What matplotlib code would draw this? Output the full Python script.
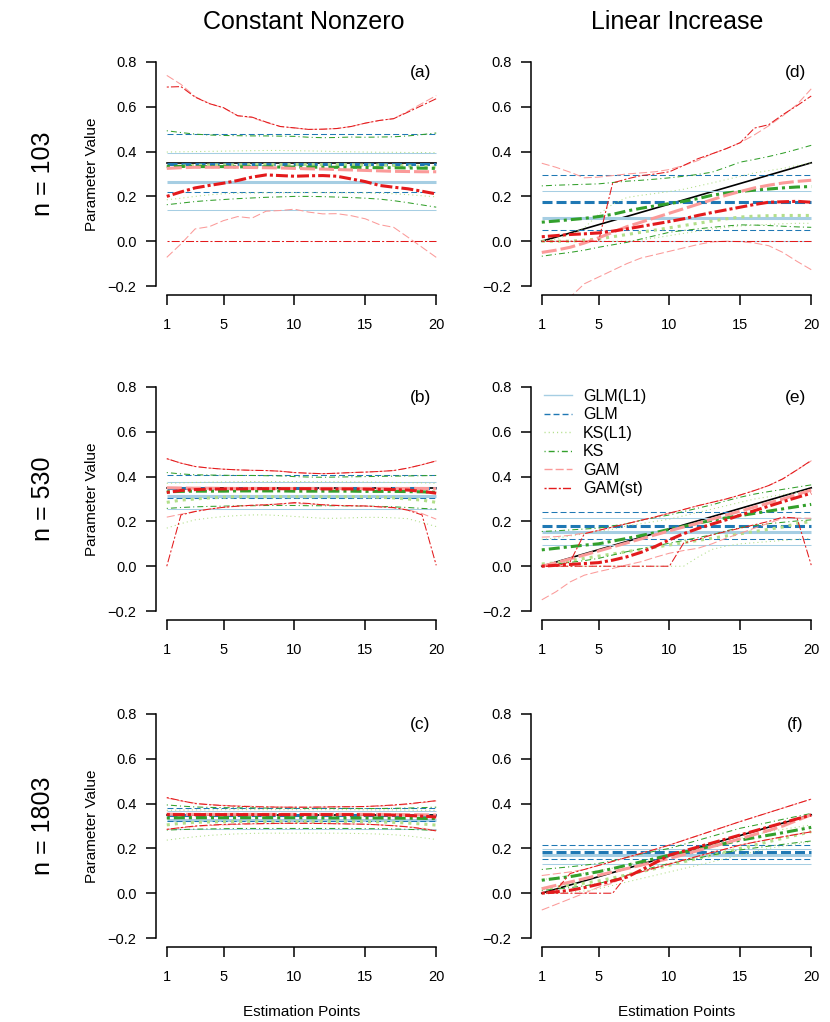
"""
Simulation summary: estimated parameter curves (mean and bands) for six
estimators, two true-parameter scenarios and three sample sizes.
Writes out.png.
"""
import numpy as np
import matplotlib
matplotlib.use("Agg")
import matplotlib.pyplot as plt
from matplotlib.lines import Line2D

plt.rcParams["font.family"] = ["Liberation Sans", "DejaVu Sans"]
plt.rcParams["lines.scale_dashes"] = False

X = np.arange(1, 21)

METHODS = ["GLM(L1)", "GLM", "KS(L1)", "KS", "GAM", "GAM(st)"]
COLORS  = ["#A6CEE3", "#1F78B4", "#B2DF8A", "#33A02C", "#FB9A99", "#E31A1C"]

# true parameter: constant (left column) / linear 0 -> 0.35 (right column)
TRUE_CONST = 0.35
TRUE_LIN_X = [1, 20]
TRUE_LIN_Y = [0.0, 0.35]

# ── panel (a): constant, n = 103 ───────────────────────────────────────────
A_GLML1 = (0.265, 0.140, 0.392)          # mean, lower, upper (constant fits)
A_GLM   = (0.345, 0.218, 0.478)
A_KSL1_M = [0.330, 0.335, 0.338, 0.340, 0.340, 0.341, 0.342, 0.342, 0.342, 0.342,
            0.342, 0.342, 0.342, 0.341, 0.340, 0.340, 0.338, 0.336, 0.334, 0.330]
A_KSL1_L = [0.185, 0.192, 0.200, 0.207, 0.212, 0.214, 0.215, 0.216, 0.216, 0.217,
            0.217, 0.217, 0.216, 0.216, 0.215, 0.214, 0.212, 0.208, 0.203, 0.198]
A_KSL1_U = [0.398, 0.399, 0.400, 0.401, 0.402, 0.403, 0.404, 0.405, 0.405, 0.404,
            0.403, 0.402, 0.400, 0.399, 0.398, 0.397, 0.397, 0.396, 0.396, 0.395]
A_KS_M = [0.334, 0.334, 0.333, 0.333, 0.333, 0.332, 0.332, 0.332, 0.331, 0.331,
          0.331, 0.330, 0.330, 0.330, 0.329, 0.328, 0.328, 0.327, 0.326, 0.325]
A_KS_L = [0.163, 0.170, 0.177, 0.182, 0.186, 0.190, 0.193, 0.196, 0.198, 0.200,
          0.200, 0.199, 0.197, 0.195, 0.192, 0.188, 0.181, 0.172, 0.162, 0.152]
A_KS_U = [0.493, 0.485, 0.478, 0.474, 0.472, 0.471, 0.470, 0.470, 0.469, 0.468,
          0.464, 0.462, 0.463, 0.465, 0.464, 0.465, 0.466, 0.470, 0.476, 0.483]
A_GAM_M = [0.325, 0.328, 0.330, 0.330, 0.330, 0.330, 0.329, 0.328, 0.327, 0.325,
           0.323, 0.322, 0.320, 0.318, 0.316, 0.314, 0.312, 0.311, 0.310, 0.310]
A_GAM_L = [-0.072, -0.012, 0.055, 0.065, 0.092, 0.110, 0.103, 0.134, 0.137, 0.143,
           0.130, 0.122, 0.123, 0.114, 0.100, 0.074, 0.062, 0.018, -0.027, -0.072]
A_GAM_U = [0.740, 0.700, 0.645, 0.615, 0.595, 0.560, 0.552, 0.530, 0.512, 0.505,
           0.499, 0.500, 0.503, 0.512, 0.527, 0.539, 0.547, 0.580, 0.615, 0.650]
A_GST_M = [0.200, 0.220, 0.238, 0.249, 0.259, 0.271, 0.286, 0.296, 0.293, 0.290,
           0.292, 0.293, 0.290, 0.278, 0.266, 0.249, 0.241, 0.234, 0.223, 0.211]
A_GST_L = [0.0] * 20
A_GST_U = [0.688, 0.690, 0.643, 0.614, 0.596, 0.560, 0.554, 0.532, 0.512, 0.506,
           0.499, 0.500, 0.503, 0.512, 0.527, 0.539, 0.547, 0.576, 0.606, 0.636]

# ── panel (b): constant, n = 530 ───────────────────────────────────────────
B_GLML1 = (0.314, 0.255, 0.374)
B_GLM   = (0.348, 0.304, 0.406)
B_KSL1_M = [0.285, 0.295, 0.300, 0.305, 0.308, 0.310, 0.310, 0.310, 0.310, 0.310,
            0.310, 0.310, 0.310, 0.310, 0.310, 0.308, 0.305, 0.300, 0.295, 0.285]
B_KSL1_L = [0.170, 0.190, 0.207, 0.215, 0.222, 0.226, 0.229, 0.229, 0.226, 0.222,
            0.218, 0.214, 0.214, 0.216, 0.218, 0.218, 0.216, 0.212, 0.195, 0.177]
B_KSL1_U = [0.370, 0.372, 0.374, 0.375, 0.376, 0.377, 0.378, 0.378, 0.378, 0.378,
            0.378, 0.377, 0.377, 0.376, 0.376, 0.375, 0.374, 0.373, 0.372, 0.370]
B_KS_M = [0.332, 0.334, 0.335, 0.335, 0.335, 0.336, 0.336, 0.336, 0.336, 0.335,
          0.335, 0.335, 0.335, 0.335, 0.334, 0.334, 0.334, 0.333, 0.332, 0.330]
B_KS_L = [0.258, 0.262, 0.265, 0.267, 0.268, 0.270, 0.270, 0.271, 0.271, 0.271,
          0.270, 0.270, 0.270, 0.269, 0.268, 0.267, 0.265, 0.262, 0.258, 0.255]
B_KS_U = [0.418, 0.412, 0.408, 0.407, 0.406, 0.405, 0.405, 0.404, 0.403, 0.400,
          0.398, 0.397, 0.398, 0.399, 0.400, 0.401, 0.402, 0.403, 0.404, 0.405]
B_GAM_M = [0.350, 0.349, 0.348, 0.348, 0.347, 0.347, 0.347, 0.347, 0.347, 0.347,
           0.347, 0.347, 0.347, 0.347, 0.347, 0.347, 0.347, 0.347, 0.347, 0.346]
B_GAM_L = [0.219, 0.232, 0.245, 0.255, 0.263, 0.268, 0.272, 0.275, 0.278, 0.280,
           0.278, 0.275, 0.272, 0.270, 0.268, 0.265, 0.260, 0.252, 0.235, 0.210]
B_GAM_U = [0.480, 0.460, 0.445, 0.438, 0.433, 0.430, 0.428, 0.427, 0.424, 0.418,
           0.415, 0.413, 0.415, 0.418, 0.420, 0.423, 0.427, 0.438, 0.453, 0.470]
B_GST_M = [0.329, 0.338, 0.342, 0.344, 0.345, 0.345, 0.346, 0.346, 0.346, 0.346,
           0.346, 0.345, 0.345, 0.345, 0.344, 0.343, 0.342, 0.340, 0.334, 0.326]
B_GST_L = [0.000, 0.229, 0.244, 0.255, 0.263, 0.268, 0.272, 0.274, 0.278, 0.284,
           0.280, 0.274, 0.271, 0.270, 0.269, 0.265, 0.262, 0.250, 0.229, 0.004]
B_GST_U = [0.480, 0.460, 0.445, 0.438, 0.433, 0.430, 0.428, 0.427, 0.424, 0.418,
           0.415, 0.413, 0.415, 0.418, 0.420, 0.423, 0.427, 0.438, 0.453, 0.470]

# ── panel (c): constant, n = 1803 ──────────────────────────────────────────
C_GLML1 = (0.328, 0.285, 0.365)
C_GLM   = (0.348, 0.322, 0.381)
C_KSL1_M = [0.305, 0.312, 0.316, 0.318, 0.319, 0.320, 0.320, 0.320, 0.320, 0.320,
            0.320, 0.320, 0.320, 0.320, 0.319, 0.318, 0.316, 0.313, 0.309, 0.304]
C_KSL1_L = [0.237, 0.245, 0.252, 0.258, 0.262, 0.265, 0.267, 0.268, 0.268, 0.268,
            0.268, 0.268, 0.268, 0.267, 0.266, 0.264, 0.261, 0.256, 0.248, 0.240]
C_KSL1_U = [0.370, 0.371, 0.372, 0.372, 0.373, 0.373, 0.373, 0.373, 0.373, 0.373,
            0.373, 0.373, 0.373, 0.373, 0.372, 0.372, 0.372, 0.371, 0.370, 0.370]
C_KS_M = [0.336, 0.337, 0.337, 0.337, 0.337, 0.337, 0.337, 0.337, 0.337, 0.337,
          0.337, 0.336, 0.336, 0.336, 0.336, 0.336, 0.335, 0.335, 0.334, 0.333]
C_KS_L = [0.282, 0.284, 0.286, 0.287, 0.288, 0.289, 0.289, 0.289, 0.289, 0.289,
          0.289, 0.289, 0.289, 0.289, 0.288, 0.288, 0.287, 0.285, 0.283, 0.280]
C_KS_U = [0.394, 0.389, 0.385, 0.383, 0.382, 0.381, 0.381, 0.380, 0.380, 0.380,
          0.379, 0.379, 0.379, 0.378, 0.378, 0.378, 0.379, 0.380, 0.382, 0.384]
C_GAM_M = [0.353, 0.352, 0.352, 0.352, 0.352, 0.352, 0.352, 0.352, 0.352, 0.352,
           0.352, 0.352, 0.352, 0.352, 0.352, 0.352, 0.351, 0.351, 0.350, 0.349]
C_GAM_L = [0.285, 0.292, 0.298, 0.302, 0.305, 0.307, 0.309, 0.310, 0.311, 0.312,
           0.312, 0.311, 0.310, 0.309, 0.308, 0.305, 0.302, 0.297, 0.290, 0.280]
C_GAM_U = [0.425, 0.412, 0.402, 0.396, 0.392, 0.390, 0.388, 0.386, 0.385, 0.384,
           0.384, 0.384, 0.385, 0.386, 0.387, 0.389, 0.392, 0.397, 0.404, 0.412]
C_GST_M = [0.351, 0.351, 0.351, 0.351, 0.351, 0.351, 0.351, 0.351, 0.351, 0.351,
           0.351, 0.351, 0.351, 0.351, 0.350, 0.350, 0.349, 0.347, 0.344, 0.340]
C_GST_L = [0.285, 0.293, 0.300, 0.304, 0.307, 0.309, 0.310, 0.311, 0.312, 0.312,
           0.312, 0.311, 0.310, 0.309, 0.308, 0.305, 0.301, 0.296, 0.288, 0.278]
C_GST_U = [0.427, 0.413, 0.400, 0.395, 0.391, 0.388, 0.386, 0.385, 0.384, 0.384,
           0.384, 0.385, 0.386, 0.386, 0.387, 0.390, 0.394, 0.399, 0.406, 0.413]

# ── panel (d): linear, n = 103 ─────────────────────────────────────────────
D_GLML1 = (0.102, 0.000, 0.226)
D_GLM   = (0.174, 0.050, 0.296)
D_KSL1_M = [0.000, 0.000, 0.000, 0.005, 0.010, 0.020, 0.030, 0.040, 0.050, 0.060,
            0.070, 0.080, 0.090, 0.100, 0.108, 0.112, 0.114, 0.115, 0.115, 0.115]
D_KSL1_L = [0.000, 0.000, 0.000, 0.000, 0.000, 0.000, 0.000, 0.005, 0.015, 0.025,
            0.035, 0.045, 0.055, 0.062, 0.068, 0.072, 0.075, 0.078, 0.080, 0.080]
D_KSL1_U = [0.000, 0.010, 0.030, 0.060, 0.120, 0.165, 0.195, 0.205, 0.213, 0.222,
            0.232, 0.246, 0.260, 0.275, 0.290, 0.305, 0.315, 0.325, 0.338, 0.350]
D_KS_M = [0.085, 0.090, 0.096, 0.102, 0.110, 0.120, 0.135, 0.147, 0.158, 0.168,
          0.178, 0.190, 0.205, 0.215, 0.222, 0.228, 0.233, 0.238, 0.242, 0.244]
D_KS_L = [-0.067, -0.058, -0.050, -0.040, -0.027, -0.016, -0.005, 0.010, 0.025, 0.040,
          0.048, 0.055, 0.062, 0.068, 0.073, 0.072, 0.070, 0.067, 0.064, 0.062]
D_KS_U = [0.247, 0.250, 0.252, 0.254, 0.256, 0.262, 0.268, 0.272, 0.277, 0.283,
          0.290, 0.298, 0.308, 0.330, 0.353, 0.365, 0.378, 0.393, 0.410, 0.428]
D_GAM_M = [-0.050, -0.040, -0.027, -0.008, 0.015, 0.040, 0.065, 0.085, 0.105, 0.125,
           0.145, 0.165, 0.185, 0.205, 0.222, 0.238, 0.250, 0.260, 0.267, 0.272]
D_GAM_L = [-0.350, -0.300, -0.250, -0.190, -0.160, -0.130, -0.100, -0.075, -0.060, -0.045,
           -0.030, -0.015, -0.003, 0.000, -0.002, -0.008, -0.020, -0.050, -0.090, -0.127]
D_GAM_U = [0.348, 0.330, 0.308, 0.283, 0.286, 0.293, 0.300, 0.305, 0.310, 0.320,
           0.338, 0.360, 0.390, 0.413, 0.440, 0.475, 0.515, 0.560, 0.610, 0.680]
D_GST_M = [0.020, 0.025, 0.030, 0.033, 0.037, 0.045, 0.055, 0.066, 0.077, 0.088,
           0.100, 0.115, 0.128, 0.140, 0.152, 0.164, 0.174, 0.176, 0.178, 0.174]
D_GST_L = [0.0] * 20
D_GST_U = [0.000, 0.000, 0.000, 0.000, 0.000, 0.260, 0.278, 0.293, 0.300, 0.310,
           0.338, 0.368, 0.390, 0.413, 0.440, 0.505, 0.520, 0.565, 0.605, 0.648]

# ── panel (e): linear, n = 530 ─────────────────────────────────────────────
E_GLML1 = (0.152, 0.095, 0.214)
E_GLM   = (0.180, 0.122, 0.240)
E_KSL1_M = [0.010, 0.015, 0.025, 0.035, 0.045, 0.055, 0.065, 0.075, 0.085, 0.095,
            0.105, 0.115, 0.125, 0.135, 0.145, 0.155, 0.165, 0.175, 0.190, 0.200]
E_KSL1_L = [0.000, 0.000, 0.000, 0.000, 0.000, 0.000, 0.000, 0.000, 0.000, 0.000,
            0.000, 0.040, 0.075, 0.090, 0.100, 0.105, 0.110, 0.115, 0.120, 0.125]
E_KSL1_U = [0.120, 0.125, 0.135, 0.145, 0.155, 0.165, 0.180, 0.190, 0.200, 0.210,
            0.225, 0.240, 0.255, 0.270, 0.285, 0.300, 0.310, 0.320, 0.330, 0.340]
E_KS_M = [0.073, 0.080, 0.087, 0.094, 0.100, 0.112, 0.124, 0.137, 0.150, 0.165,
          0.178, 0.192, 0.205, 0.216, 0.226, 0.236, 0.246, 0.256, 0.266, 0.276]
E_KS_L = [0.003, 0.010, 0.017, 0.025, 0.035, 0.050, 0.065, 0.078, 0.090, 0.103,
          0.115, 0.128, 0.140, 0.158, 0.172, 0.182, 0.190, 0.196, 0.202, 0.207]
E_KS_U = [0.155, 0.158, 0.162, 0.166, 0.170, 0.180, 0.190, 0.205, 0.217, 0.229,
          0.244, 0.259, 0.274, 0.292, 0.308, 0.322, 0.333, 0.343, 0.353, 0.363]
E_GAM_M = [0.000, 0.015, 0.033, 0.050, 0.068, 0.086, 0.104, 0.122, 0.140, 0.158,
           0.175, 0.192, 0.210, 0.228, 0.246, 0.264, 0.282, 0.300, 0.320, 0.340]
E_GAM_L = [-0.150, -0.114, -0.070, -0.040, -0.024, -0.010, 0.006, 0.020, 0.040, 0.058,
           0.070, 0.080, 0.100, 0.125, 0.147, 0.170, 0.192, 0.214, 0.215, 0.214]
E_GAM_U = [0.130, 0.132, 0.138, 0.148, 0.160, 0.175, 0.190, 0.205, 0.220, 0.237,
           0.253, 0.270, 0.285, 0.300, 0.318, 0.338, 0.360, 0.390, 0.430, 0.470]
E_GST_M = [0.000, 0.004, 0.008, 0.012, 0.016, 0.027, 0.042, 0.062, 0.088, 0.118,
           0.145, 0.168, 0.188, 0.207, 0.228, 0.248, 0.268, 0.288, 0.307, 0.326]
E_GST_L = [0.000, 0.000, 0.000, 0.000, 0.000, 0.000, 0.000, 0.000, 0.000, 0.000,
           0.103, 0.120, 0.140, 0.155, 0.170, 0.185, 0.200, 0.219, 0.215, 0.005]
E_GST_U = [0.000, 0.000, 0.020, 0.145, 0.160, 0.175, 0.190, 0.205, 0.220, 0.237,
           0.253, 0.270, 0.285, 0.300, 0.318, 0.338, 0.360, 0.390, 0.430, 0.472]

# ── panel (f): linear, n = 1803 ────────────────────────────────────────────
F_GLML1 = (0.169, 0.131, 0.198)
F_GLM   = (0.184, 0.151, 0.215)
F_KSL1_M = [0.020, 0.028, 0.036, 0.045, 0.055, 0.068, 0.082, 0.096, 0.110, 0.125,
            0.140, 0.155, 0.170, 0.185, 0.200, 0.215, 0.230, 0.245, 0.260, 0.275]
F_KSL1_L = [0.000, 0.000, 0.005, 0.010, 0.020, 0.035, 0.050, 0.065, 0.080, 0.095,
            0.110, 0.125, 0.140, 0.155, 0.170, 0.185, 0.200, 0.210, 0.220, 0.230]
F_KSL1_U = [0.060, 0.070, 0.080, 0.090, 0.100, 0.112, 0.125, 0.140, 0.155, 0.170,
            0.185, 0.200, 0.215, 0.230, 0.245, 0.260, 0.275, 0.285, 0.295, 0.305]
F_KS_M = [0.058, 0.066, 0.074, 0.085, 0.096, 0.110, 0.125, 0.140, 0.155, 0.170,
          0.183, 0.196, 0.210, 0.223, 0.237, 0.248, 0.259, 0.270, 0.282, 0.294]
F_KS_L = [0.013, 0.018, 0.025, 0.033, 0.043, 0.060, 0.080, 0.100, 0.118, 0.133,
          0.145, 0.157, 0.170, 0.182, 0.193, 0.202, 0.210, 0.218, 0.226, 0.233]
F_KS_U = [0.106, 0.112, 0.118, 0.125, 0.133, 0.145, 0.160, 0.175, 0.188, 0.200,
          0.218, 0.236, 0.254, 0.272, 0.290, 0.303, 0.316, 0.330, 0.343, 0.356]
F_GAM_M = [0.020, 0.035, 0.050, 0.065, 0.080, 0.095, 0.110, 0.125, 0.140, 0.155,
           0.172, 0.190, 0.208, 0.225, 0.243, 0.262, 0.280, 0.300, 0.325, 0.350]
F_GAM_L = [-0.075, -0.050, -0.025, 0.000, 0.027, 0.045, 0.080, 0.095, 0.113, 0.130,
           0.148, 0.165, 0.182, 0.198, 0.215, 0.228, 0.240, 0.252, 0.263, 0.274]
F_GAM_U = [0.079, 0.087, 0.095, 0.106, 0.124, 0.142, 0.160, 0.178, 0.196, 0.215,
           0.236, 0.257, 0.278, 0.299, 0.320, 0.340, 0.360, 0.380, 0.400, 0.420]
F_GST_M = [0.000, 0.006, 0.013, 0.025, 0.040, 0.055, 0.072, 0.103, 0.136, 0.170,
           0.188, 0.206, 0.224, 0.242, 0.260, 0.278, 0.296, 0.314, 0.332, 0.349]
F_GST_L = [0.000, 0.000, 0.000, 0.000, 0.000, 0.000, 0.080, 0.095, 0.113, 0.130,
           0.148, 0.165, 0.182, 0.198, 0.215, 0.228, 0.240, 0.252, 0.263, 0.274]
F_GST_U = [0.001, 0.013, 0.088, 0.106, 0.124, 0.142, 0.160, 0.178, 0.196, 0.215,
           0.236, 0.257, 0.278, 0.299, 0.320, 0.340, 0.360, 0.380, 0.400, 0.420]

PANELS = {
    "a": (A_GLML1, A_GLM, (A_KSL1_M, A_KSL1_L, A_KSL1_U), (A_KS_M, A_KS_L, A_KS_U),
          (A_GAM_M, A_GAM_L, A_GAM_U), (A_GST_M, A_GST_L, A_GST_U)),
    "b": (B_GLML1, B_GLM, (B_KSL1_M, B_KSL1_L, B_KSL1_U), (B_KS_M, B_KS_L, B_KS_U),
          (B_GAM_M, B_GAM_L, B_GAM_U), (B_GST_M, B_GST_L, B_GST_U)),
    "c": (C_GLML1, C_GLM, (C_KSL1_M, C_KSL1_L, C_KSL1_U), (C_KS_M, C_KS_L, C_KS_U),
          (C_GAM_M, C_GAM_L, C_GAM_U), (C_GST_M, C_GST_L, C_GST_U)),
    "d": (D_GLML1, D_GLM, (D_KSL1_M, D_KSL1_L, D_KSL1_U), (D_KS_M, D_KS_L, D_KS_U),
          (D_GAM_M, D_GAM_L, D_GAM_U), (D_GST_M, D_GST_L, D_GST_U)),
    "e": (E_GLML1, E_GLM, (E_KSL1_M, E_KSL1_L, E_KSL1_U), (E_KS_M, E_KS_L, E_KS_U),
          (E_GAM_M, E_GAM_L, E_GAM_U), (E_GST_M, E_GST_L, E_GST_U)),
    "f": (F_GLML1, F_GLM, (F_KSL1_M, F_KSL1_L, F_KSL1_U), (F_KS_M, F_KS_L, F_KS_U),
          (F_GAM_M, F_GAM_L, F_GAM_U), (F_GST_M, F_GST_L, F_GST_U)),
}

# ── styles (dash patterns in points, thin band lines vs thick mean lines) ───
THIN, THICK, TRUE_LW = 0.75, 2.2, 1.2
DASH_THIN  = [None, (4.3, 2.2), (0.8, 2.2), (0.8, 2.2, 4.3, 2.2), (5.8, 2.2), (1.5, 1.5, 5.8, 1.5)]
DASH_THICK = [None, (7.2, 2.9), (2.2, 3.6), (2.2, 2.9, 7.9, 2.9), (10.8, 2.9), (2.2, 2.2, 8.6, 2.2)]

FS_TICK, FS_LAB, FS_BIG = 10.5, 11, 18


def line(ax, x, y, i, thick):
    lw = THICK if thick else THIN
    dash = (DASH_THICK if thick else DASH_THIN)[i]
    kw = dict(color=COLORS[i], lw=lw, solid_capstyle="butt")
    if dash is None:
        ax.plot(x, y, ls="-", **kw)
    else:
        ax.plot(x, y, dashes=dash, dash_capstyle="butt", **kw)


def draw_panel(ax, key, linear):
    glml1, glm, ksl1, ks, gam, gst = PANELS[key]
    if linear:
        ax.plot(TRUE_LIN_X, TRUE_LIN_Y, color="black", lw=TRUE_LW)
    else:
        ax.plot([1, 20], [TRUE_CONST, TRUE_CONST], color="black", lw=TRUE_LW)

    for i, (m, lo, hi) in enumerate([glml1, glm]):
        line(ax, [1, 20], [lo, lo], i, False)
        line(ax, [1, 20], [hi, hi], i, False)
        line(ax, [1, 20], [m, m], i, True)
    for i, (m, lo, hi) in enumerate([ksl1, ks, gam, gst], start=2):
        line(ax, X, lo, i, False)
        line(ax, X, hi, i, False)
        line(ax, X, m, i, True)

    ax.set_xlim(1 - 0.04 * 19, 20 + 0.04 * 19)
    ax.set_ylim(-0.2 - 0.04, 0.8 + 0.04)
    ax.set_xticks([1, 5, 10, 15, 20])
    ax.set_yticks([-0.2, 0.0, 0.2, 0.4, 0.6, 0.8])
    ax.set_yticklabels(["\u22120.2", "0.0", "0.2", "0.4", "0.6", "0.8"])
    for s in ("top", "right"):
        ax.spines[s].set_visible(False)
    ax.spines["left"].set_bounds(-0.2, 0.8)
    ax.spines["bottom"].set_bounds(1, 20)
    for s in ("left", "bottom"):
        ax.spines[s].set_linewidth(1.1)
    ax.tick_params(axis="both", length=7, width=1.1, labelsize=FS_TICK)
    ax.tick_params(axis="x", pad=9.5)
    ax.tick_params(axis="y", pad=7)
    ax.text(0.908, 0.92, f"({key})", transform=ax.transAxes,
            ha="center", va="center", fontsize=12.5)


def main():
    fig = plt.figure(figsize=(8.3, 10.22), dpi=100)
    W, H = 830, 1022
    lefts = [156, 531]
    tops = [53, 378, 705]
    aw, ah = 291, 242
    keys = [["a", "d"], ["b", "e"], ["c", "f"]]

    axes = {}
    for r, top in enumerate(tops):
        for c, left in enumerate(lefts):
            ax = fig.add_axes([left / W, 1 - (top + ah) / H, aw / W, ah / H])
            draw_panel(ax, keys[r][c], linear=(c == 1))
            axes[keys[r][c]] = ax

    # legend in panel (e)
    handles = []
    for i, name in enumerate(METHODS):
        d = DASH_THIN[i]
        if d is None:
            h = Line2D([], [], color=COLORS[i], lw=1.0)
        else:
            h = Line2D([], [], color=COLORS[i], lw=1.0, dashes=d)
        handles.append(h)
    axes["e"].legend(handles, METHODS, loc="upper left", bbox_to_anchor=(0.045, 0.955),
                     frameon=False, fontsize=11.5, handlelength=1.75, handletextpad=0.7,
                     labelspacing=0.22, borderaxespad=0, borderpad=0)

    # column titles, row labels, axis labels
    fig.text(304 / W, 1 - 22 / H, "Constant Nonzero", ha="center", va="center", fontsize=FS_BIG)
    fig.text(677 / W, 1 - 22 / H, "Linear Increase", ha="center", va="center", fontsize=FS_BIG)
    for top, lab in zip(tops, ["n = 103", "n = 530", "n = 1803"]):
        yc = 1 - (top + ah / 2) / H
        fig.text(43 / W, yc, lab, rotation=90, ha="center", va="center", fontsize=FS_BIG)
        fig.text(92 / W, yc, "Parameter Value", rotation=90, ha="center", va="center",
                 fontsize=FS_LAB)
    for left in lefts:
        fig.text((left + aw / 2) / W, 1 - 1011.5 / H, "Estimation Points",
                 ha="center", va="center", fontsize=FS_LAB)

    fig.savefig("out.png", dpi=100)
    plt.close(fig)


if __name__ == "__main__":
    main()
